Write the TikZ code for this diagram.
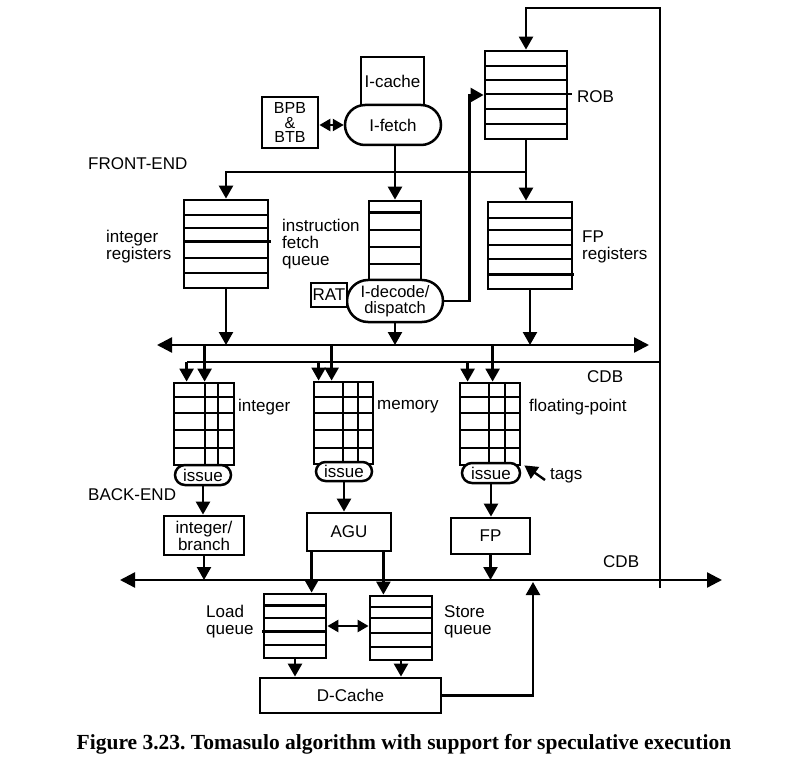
\documentclass[tikz,border=0pt]{standalone}
\usepackage{fontspec}
\setmainfont{Liberation Sans}
\newfontfamily\capfont{Liberation Serif}
\usetikzlibrary{arrows.meta,calc,shapes.misc}
\newcommand\fs{\fontsize{17}{17}\selectfont}
\newcommand\bx[7]{\node[#2, minimum width={(#5)-(#3)}, minimum height={(#6)-(#4)}] (#1) at ({((#3)+(#5))/2},{((#4)+(#6))/2}) {#7};}
\newcommand\rws[3]{\foreach \rr in {#3} \draw[rowl] (#1,\rr) -- (#2,\rr);}
\newcommand\cls[3]{\foreach \cc in {#3} \draw[rowl] (\cc,#1) -- (\cc,#2);}
\tikzset{
 every node/.style={inner sep=0pt, font=\fs},
 box/.style={draw, line width=2.8pt, fill=white},
 pill/.style={draw, line width=2.5pt, fill=white, rounded rectangle},
 conn/.style={line width=2.4pt},
 arr/.style={conn, -{Triangle[length=13pt,width=14pt]}},
 bigdbl/.style={conn, {Triangle[length=15pt,width=15pt]}-{Triangle[length=15pt,width=15pt]}},
 dbl/.style={conn, {Triangle[length=11pt,width=12pt]}-{Triangle[length=11pt,width=12pt]}},
 rowl/.style={line width=1.9pt},
 rowt/.style={line width=3pt},
 lbl/.style={anchor=west, align=left},
}
\frenchspacing
\begin{document}
\begin{tikzpicture}[x=1pt,y=-1pt]
\useasboundingbox (0,0) rectangle (807,773);
\fill[white] (0,0) rectangle (807,773);

% ---------- front end ----------
\bx{rob}{box}{485}{51}{567}{139}{}
\rws{485}{567}{66,80,109,124}
\draw[rowl] (485,94) -- (572,94);
\node[lbl] (roblbl) at (577,97) {ROB};

\bx{icache}{box}{361}{57}{424}{106}{I-cache}
\bx{ifetch}{pill}{345}{105}{441}{145}{I-fetch}
\bx{bpb}{box,align=center,font=\fontsize{16}{14.8}\selectfont}{262}{97}{318}{148}{BPB\\\&\\BTB}
\draw[dbl] (ifetch.west -| bpb.east) -- (ifetch.west);

\node[lbl] (fe) at (88,164) {FRONT-END};

\bx{intreg}{box}{184}{200}{268}{288}{}
\rws{184}{268}{215,228,258,273}
\draw[rowt] (184,242) -- (271,242);
\bx{ifq}{box}{369}{201}{421}{292}{}
\rws{369}{421}{230,247,264}
\draw[rowt] (369,213) -- (421,213);
\bx{fpreg}{box}{488}{202}{572}{289}{}
\rws{488}{572}{218,230,245,259}
\draw[rowt] (488,275) -- (574,275);

\bx{idec}{pill,align=center,font=\fontsize{16.5}{15.5}\selectfont}{347}{280}{443}{322}{I-decode/\\dispatch}
\bx{rat}{box}{311}{283}{347}{307}{RAT}

\node[lbl] (intreglbl) at (106,247) {integer\\registers};
\node[lbl] (ifqlbl) at (282,244) {instruction\\fetch\\queue};
\node[lbl] (fpreglbl) at (582,247) {FP\\registers};

\coordinate (vtop) at (660,8);
\coordinate (vbot) at (660,588);
\coordinate (cdbU) at (660,362);
\coordinate (yspl) at (0,172);
\draw[arr] (vbot) -- (vtop) -| (rob.north);
\draw[arr] (rob.south) -- (rob.south |- fpreg.north);
\draw[arr] (rob.south |- yspl) -| (intreg.north);
\draw[arr] (ifq.north |- ifetch.south) -- (ifq.north);
\draw[arr] (idec.east) -| ($(rob.west)+(-14,0)$) -- (rob.west);

% ---------- upper bus ----------
\coordinate (busL) at (157,345);
\coordinate (busR) at (649,345);
\draw[bigdbl] (busL) -- (busR);
\draw[arr] (intreg.south) -- (intreg.south |- busL);
\draw[arr] (idec.south) -- (idec.south |- busL);
\draw[arr] (fpreg.south) -- (fpreg.south |- busL);

% ---------- reservation stations ----------
\bx{intrs}{box}{174}{383}{234}{465}{}
\rws{174}{234}{397,413,430,448}
\cls{383}{465}{205,218}
\bx{memrs}{box}{314}{382}{373}{464}{}
\rws{314}{373}{397,413,430,448}
\cls{382}{464}{343,358}
\bx{fprs}{box}{460}{383}{520}{465}{}
\rws{460}{520}{397,413,430,448}
\cls{383}{465}{489,505}

\path ($(intrs.north west)+(14,0)$) coordinate (ia)
      ($(intrs.north west)+(32,0)$) coordinate (ib)
      ($(memrs.north west)+(6,0)$) coordinate (ma)
      ($(memrs.north west)+(19,0)$) coordinate (mb)
      ($(fprs.north west)+(9,0)$) coordinate (fa)
      ($(fprs.north west)+(34,0)$) coordinate (fb);
\draw[conn] (cdbU) -- (ia |- cdbU);
\draw[arr] (ia |- cdbU) -- (ia);
\draw[arr] (ma |- cdbU) -- (ma);
\draw[arr] (fa |- cdbU) -- (fa);
\draw[arr] (ib |- busL) -- (ib);
\draw[arr] (mb |- busL) -- (mb);
\draw[arr] (fb |- busL) -- (fb);

\bx{intiss}{pill}{175}{465}{231}{485}{issue}
\bx{memiss}{pill}{316}{462}{372}{481}{issue}
\bx{fpiss}{pill}{462}{463}{520}{483}{issue}

\node[lbl] (intlbl) at (238,407) {integer};
\node[lbl] (memlbl) at (377,407) {memory};
\node[lbl] (fplbl) at (529,407) {floating-point};
\node[lbl] (cdb1) at (587,377) {CDB};
\node[lbl] (tagslbl) at (550,476) {tags};
\coordinate (tagt) at (545,480);
\draw[arr] (tagt) -- ($(fprs.south east)+(3,-1)$);
\node[lbl] (be) at (88,495) {BACK-END};

% ---------- functional units ----------
\bx{intbr}{box,align=center,font=\fontsize{17}{15.5}\selectfont}{164}{516}{244}{555}{integer/\\branch}
\bx{agu}{box}{307}{513}{391}{551}{AGU}
\bx{fpu}{box}{451}{518}{530}{554}{FP}
\draw[arr] (intiss.south) -- (intiss.south |- intbr.north);
\draw[arr] (memiss.south) -- (memiss.south |- agu.north);
\draw[arr] (fpiss.south) -- (fpiss.south |- fpu.north);

% ---------- lower bus ----------
\coordinate (bus2L) at (120,580);
\coordinate (bus2R) at (722,580);
\draw[bigdbl] (bus2L) -- (bus2R);
\node[lbl] (cdb2) at (603,562) {CDB};
\draw[arr] (intbr.south) -- (intbr.south |- bus2L);
\draw[arr] (fpu.south) -- (fpu.south |- bus2L);

% ---------- memory queues ----------
\bx{ldq}{box}{264}{594}{326}{658}{}
\rws{264}{326}{618,645}
\draw[rowt] (264,605) -- (326,605);
\draw[rowt] (262,631) -- (326,631);
\bx{stq}{box}{370}{596}{432}{660}{}
\rws{370}{432}{607,618,633,647}
\path ($(agu.south west)+(6,0)$) coordinate (aL)
      ($(agu.south east)+(-9,0)$) coordinate (aR);
\draw[arr] (aL) -- (aL |- ldq.north);
\draw[arr] (aR) -- (aR |- stq.north);
\draw[dbl] (ldq.east) -- (ldq.east -| stq.west);
\node[lbl] (ldqlbl) at (206,622) {Load\\queue};
\node[lbl] (stqlbl) at (444,622) {Store\\queue};

\bx{dc}{box}{260}{678}{441}{713}{D-Cache}
\draw[arr] (ldq.south) -- (ldq.south |- dc.north);
\draw[arr] (stq.south) -- (stq.south |- dc.north);
\coordinate (dcup) at (533,582);
\draw[arr] (dc.east) -| (dcup);

\node[font=\capfont\bfseries\fontsize{21.5}{21.5}\selectfont] (cap) at (404,744) {Figure 3.23. Tomasulo algorithm with support for speculative execution};
\end{tikzpicture}
\end{document}
